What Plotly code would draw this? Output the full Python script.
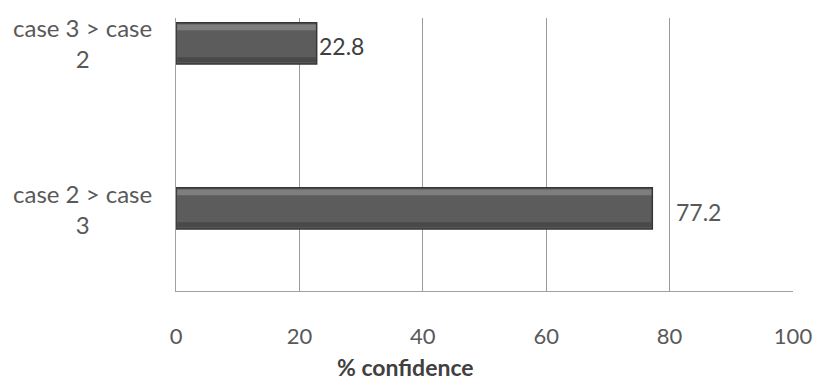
import plotly.graph_objects as go

# Pairwise comparison results
categories = ["case 2 > case<br>3", "case 3 > case<br>2"]
confidence = [77.2, 22.8]
label_shift = [22, 0]
x_ticks = [0, 20, 40, 60, 80, 100]

FONT = "Lato"
TEXT_GREY = "#595959"

PLOT_L, PLOT_R, PLOT_T, PLOT_B = 176, 800, 18, 291
W, H = 824, 381
BAR_W = 0.25
positions = list(range(len(categories)))

fig = go.Figure()

# main bars
fig.add_trace(go.Bar(
    x=confidence, y=positions, orientation="h",
    width=BAR_W, offset=-BAR_W / 2,
    marker=dict(color="#5c5c5c", line=dict(color="#363636", width=1.5)),
    hoverinfo="x", showlegend=False,
))
# bevel: light strip along the top edge, darker strip along the bottom edge
fig.add_trace(go.Bar(
    x=[v - 0.35 for v in confidence], y=positions, orientation="h",
    base=0.2, width=0.035, offset=BAR_W / 2 - 0.045,
    marker=dict(color="#7e7e7e", line=dict(width=0)),
    hoverinfo="skip", showlegend=False,
))
fig.add_trace(go.Bar(
    x=[v - 0.35 for v in confidence], y=positions, orientation="h",
    base=0.2, width=0.03, offset=-BAR_W / 2 + 0.012,
    marker=dict(color="#494949", line=dict(width=0)),
    hoverinfo="skip", showlegend=False,
))

annotations = []
# category labels, centred line-by-line to the left of the axis
for i, cat in enumerate(categories):
    annotations.append(dict(
        x=0, xref="paper", y=i, yref="y",
        text=cat, showarrow=False, xanchor="right", yanchor="middle",
        align="center", xshift=-22,
        font=dict(family=FONT, size=24, color=TEXT_GREY),
    ))
# value labels beside each bar
for i, v in enumerate(confidence):
    annotations.append(dict(
        x=v, xref="x", y=i, yref="y", yshift=-3,
        text=f"{v}", showarrow=False, xanchor="left", yanchor="middle",
        xshift=label_shift[i],
        font=dict(family=FONT, size=23, color="#404040" if i == 1 else TEXT_GREY),
    ))
# axis title
annotations.append(dict(
    x=(408 - PLOT_L) / (PLOT_R - PLOT_L), xref="paper",
    y=-(367 - PLOT_B) / (PLOT_B - PLOT_T), yref="paper",
    text="<b>% confidence</b>", showarrow=False,
    xanchor="center", yanchor="middle",
    font=dict(family=FONT, size=23, color="#404040"),
))

fig.update_layout(
    width=W, height=H,
    margin=dict(l=PLOT_L, r=W - PLOT_R, t=PLOT_T, b=H - PLOT_B),
    paper_bgcolor="white", plot_bgcolor="white",
    font=dict(family=FONT, size=22, color=TEXT_GREY),
    annotations=annotations,
    barmode="overlay",
)

fig.update_xaxes(
    range=[0, 100], tickvals=x_ticks, ticktext=[str(t) for t in x_ticks],
    showgrid=True, gridcolor="#9a9a9a", gridwidth=1,
    showline=True, linecolor="#a0a0a0", linewidth=1,
    zeroline=False, ticks="", ticklabelstandoff=26,
    tickfont=dict(family=FONT, size=22, color=TEXT_GREY),
    fixedrange=True,
)
fig.update_yaxes(
    range=[-0.5, 1.1545], showticklabels=False, showgrid=False,
    showline=True, linecolor="#a0a0a0", linewidth=1, zeroline=False,
    fixedrange=True,
)

fig.write_html("out.html")
